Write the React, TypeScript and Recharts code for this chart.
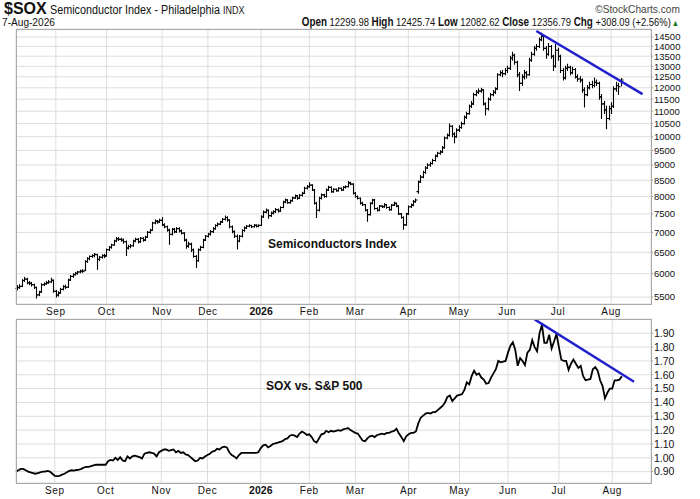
import React from 'react'
import { ComposedChart, Bar, Line, XAxis, YAxis, CartesianGrid } from 'recharts'

// trading-day index of the first session of each month
const monthTicks = [16, 37, 60, 79, 101, 121, 140, 162, 183, 203, 224, 246]
const monthLabels = ['Sep', 'Oct', 'Nov', 'Dec', '2026', 'Feb', 'Mar', 'Apr', 'May', 'Jun', 'Jul', 'Aug']

const soxTicks = [5500, 6000, 6500, 7000, 7500, 8000, 8500, 9000, 9500, 10000, 10500, 11000, 11500, 12000, 12500, 13000, 13500, 14000, 14500]
const ratioTicks = [0.9, 1.0, 1.1, 1.2, 1.3, 1.4, 1.5, 1.6, 1.7, 1.8, 1.9]

// $SOX daily bars, 8-Aug-2025 .. 7-Aug-2026
const soxOpen = [
  5680, 5700, 5730, 5850, 5880, 5800, 5790, 5760, 5700, 5550, 5610, 5760, 5780, 5800, 5820, 5850,
  5620, 5540, 5590, 5660, 5720, 5710, 5860, 5940, 5980, 6010, 6040, 6060, 6080, 6280, 6350, 6400, 6420, 6440, 6330, 6380, 6420,
  6420, 6560, 6620, 6680, 6780, 6840, 6820, 6800, 6760, 6600, 6640, 6660, 6780, 6820, 6760, 6850, 6800, 6880, 7000, 7060, 7250, 7300, 7280,
  7320, 7200, 7150, 7060, 6950, 7080, 7020, 7100, 7040, 6980, 6800, 6650, 6700, 6560, 6400, 6300, 6560, 6620, 6800,
  6900, 6950, 7020, 7100, 7180, 7220, 7280, 7350, 7400, 7330, 7150, 7020, 6900, 6780, 6900, 7050, 7120, 7160, 7180, 7150, 7190, 7160,
  7190, 7420, 7550, 7600, 7450, 7520, 7560, 7620, 7580, 7680, 7840, 7900, 7820, 7880, 7960, 8020, 7950, 8040, 8100, 8250,
  8300, 8350, 8200, 7800, 7600, 7950, 8050, 8000, 8200, 8280, 8150, 8220, 8180, 8250, 8200, 8280, 8300, 8420, 8380,
  8100, 8000, 7950, 7800, 7760, 7600, 7480, 7800, 7900, 7650, 7600, 7720, 7700, 7760, 7680, 7620, 7750, 7800, 7720, 7500, 7400, 7200,
  7500, 7700, 7750, 7850, 8150, 8450, 8600, 8750, 8900, 9000, 9050, 9150, 9300, 9400, 9450, 9600, 9950, 10050, 10400, 10100, 10000,
  10250, 10350, 10500, 10750, 10900, 11200, 11300, 11700, 11800, 11850, 11900, 11300, 11100, 11500, 11700, 11800, 11950, 12600, 12700, 12650,
  12800, 12900, 13400, 13550, 13200, 12600, 12200, 12500, 12700, 12600, 13300, 13600, 13900, 14000, 14350, 14550, 13900, 13600, 14000, 13500, 13000,
  13800, 13500, 12800, 12450, 12900, 12950, 12700, 12850, 12500, 12400, 12350, 11900, 11700, 12000, 12150, 12100, 12250, 12200, 11600, 11300, 11050, 10700,
  11100, 11200, 11950, 12100, 12299.98,
]
const soxHigh = [
  5740, 5760, 5870, 5920, 5900, 5830, 5810, 5770, 5710, 5620, 5780, 5800, 5830, 5850, 5900, 5860,
  5640, 5610, 5680, 5740, 5750, 5880, 5960, 6000, 6030, 6050, 6080, 6090, 6300, 6370, 6410, 6440, 6470, 6450, 6400, 6440, 6450,
  6580, 6640, 6700, 6800, 6870, 6860, 6850, 6830, 6780, 6670, 6690, 6800, 6850, 6840, 6870, 6860, 6900, 7020, 7080, 7270, 7330, 7320, 7350,
  7400, 7230, 7170, 7080, 7100, 7100, 7130, 7120, 7060, 6990, 6820, 6750, 6720, 6580, 6420, 6580, 6650, 6820, 6920,
  6980, 7050, 7130, 7200, 7250, 7300, 7370, 7440, 7420, 7340, 7170, 7040, 6930, 6920, 7070, 7140, 7180, 7200, 7190, 7210, 7200, 7200,
  7450, 7580, 7640, 7610, 7550, 7590, 7650, 7640, 7700, 7860, 7930, 7910, 7900, 7980, 8050, 8030, 8060, 8130, 8280, 8340,
  8420, 8360, 8210, 7830, 7980, 8080, 8070, 8230, 8310, 8290, 8240, 8230, 8270, 8260, 8300, 8330, 8460, 8440, 8390,
  8120, 8020, 7960, 7830, 7770, 7620, 7820, 7920, 7910, 7670, 7740, 7730, 7790, 7770, 7700, 7770, 7830, 7810, 7730, 7510, 7420, 7520,
  7720, 7780, 7880, 7930, 8480, 8650, 8790, 8940, 9040, 9090, 9190, 9340, 9440, 9490, 9640, 9990, 10100, 10480, 10420, 10150, 10300,
  10420, 10550, 10800, 10950, 11250, 11400, 11760, 11880, 11950, 11980, 11920, 11350, 11550, 11750, 11880, 12000, 12650, 12780, 12800, 12900,
  13000, 13500, 13700, 13600, 13250, 12700, 12600, 12800, 12750, 13400, 13700, 14000, 14100, 14450, 14700, 14600, 14000, 14150, 14050, 13550, 14100,
  13900, 13550, 12900, 13000, 13100, 13000, 12950, 12900, 12600, 12500, 12400, 12000, 12100, 12250, 12300, 12450, 12350, 12250, 11700, 11400, 11200, 11200,
  11350, 12050, 12250, 12200, 12425.74,
]
const soxLow = [
  5650, 5680, 5720, 5830, 5780, 5760, 5730, 5680, 5480, 5530, 5600, 5740, 5770, 5790, 5810, 5600,
  5500, 5520, 5580, 5650, 5680, 5700, 5850, 5920, 5970, 5990, 6020, 6030, 6070, 6260, 6320, 6380, 6390, 6100, 6300, 6360, 6370,
  6410, 6540, 6600, 6670, 6760, 6790, 6770, 6720, 6420, 6580, 6610, 6650, 6760, 6730, 6740, 6770, 6790, 6870, 6980, 7050, 7230, 7240, 7260,
  7180, 7120, 7030, 6700, 6930, 6990, 7000, 7010, 6960, 6780, 6600, 6620, 6520, 6380, 6140, 6290, 6540, 6610, 6790,
  6880, 6930, 7000, 7080, 7160, 7200, 7260, 7330, 7300, 7120, 6990, 6870, 6580, 6760, 6880, 7030, 7100, 7150, 7130, 7140, 7140, 7150,
  7180, 7400, 7530, 7380, 7430, 7500, 7540, 7550, 7570, 7670, 7820, 7800, 7800, 7860, 7940, 7920, 7940, 8020, 8090, 8230,
  8280, 8180, 7780, 7400, 7580, 7930, 7980, 7990, 8180, 8130, 8130, 8160, 8170, 8180, 8190, 8260, 8290, 8360, 8080,
  7980, 7930, 7780, 7740, 7580, 7300, 7470, 7780, 7630, 7580, 7590, 7680, 7690, 7660, 7600, 7610, 7740, 7700, 7480, 7380, 7080, 7190,
  7480, 7680, 7730, 7830, 8100, 8430, 8580, 8730, 8880, 8960, 9030, 9130, 9280, 9370, 9430, 9580, 9920, 10030, 10000, 9780, 9980,
  10200, 10320, 10480, 10700, 10880, 11150, 11280, 11650, 11750, 11800, 11250, 10840, 11050, 11450, 11650, 11750, 11930, 12550, 12500, 12600,
  12700, 12850, 13300, 13100, 12500, 11880, 12100, 12400, 12450, 12580, 13250, 13550, 13800, 13950, 14300, 13800, 13400, 13550, 13400, 12800, 12950,
  13300, 12700, 12350, 12400, 12800, 12600, 12650, 12450, 12300, 12250, 11800, 11170, 11650, 11950, 12000, 12050, 12100, 11500, 10700, 10900, 10300, 10650,
  10900, 11150, 11850, 11700, 12082.62,
]
const soxClose = [
  5700, 5720, 5850, 5880, 5800, 5790, 5760, 5700, 5540, 5600, 5760, 5780, 5800, 5820, 5860, 5620,
  5540, 5580, 5660, 5720, 5700, 5860, 5940, 5980, 6010, 6040, 6060, 6050, 6280, 6350, 6400, 6420, 6450, 6330, 6380, 6420, 6400,
  6560, 6620, 6680, 6780, 6840, 6820, 6800, 6760, 6600, 6640, 6660, 6780, 6820, 6760, 6850, 6800, 6880, 7000, 7050, 7250, 7300, 7280, 7320,
  7200, 7150, 7060, 6950, 7080, 7020, 7100, 7040, 6980, 6800, 6650, 6700, 6560, 6400, 6300, 6560, 6620, 6800, 6900,
  6950, 7020, 7100, 7180, 7220, 7280, 7350, 7400, 7330, 7150, 7020, 6900, 6780, 6900, 7050, 7120, 7160, 7180, 7150, 7190, 7160, 7180,
  7420, 7550, 7600, 7450, 7520, 7560, 7620, 7580, 7680, 7840, 7900, 7820, 7880, 7960, 8020, 7950, 8040, 8100, 8250, 8300,
  8350, 8200, 7800, 7600, 7950, 8050, 8000, 8200, 8280, 8150, 8220, 8180, 8250, 8200, 8280, 8300, 8420, 8380, 8100,
  8000, 7950, 7800, 7760, 7600, 7480, 7800, 7900, 7650, 7600, 7720, 7700, 7760, 7680, 7620, 7750, 7800, 7720, 7500, 7400, 7200, 7500,
  7700, 7750, 7850, 7900, 8450, 8600, 8750, 8900, 9000, 9050, 9150, 9300, 9400, 9450, 9600, 9950, 10050, 10400, 10100, 10000, 10250,
  10350, 10500, 10750, 10900, 11200, 11300, 11700, 11800, 11850, 11900, 11300, 11100, 11500, 11700, 11800, 11950, 12600, 12700, 12650, 12800,
  12900, 13400, 13550, 13200, 12600, 12200, 12500, 12700, 12600, 13300, 13600, 13900, 14000, 14350, 14550, 13900, 13600, 14000, 13500, 13000, 13800,
  13500, 12800, 12450, 12900, 12950, 12700, 12850, 12500, 12400, 12350, 11900, 11700, 12000, 12150, 12100, 12250, 12200, 11600, 11300, 11050, 10700, 11100,
  11200, 11950, 12100, 12048.7, 12356.79,
]

// SOX : S&P 500 ratio, daily close
const ratio = [
  0.9, 0.91, 0.92, 0.92, 0.91, 0.9, 0.895, 0.89, 0.885, 0.89, 0.895, 0.9, 0.9, 0.905, 0.9, 0.885,
  0.87, 0.868, 0.87, 0.878, 0.885, 0.895, 0.905, 0.91, 0.908, 0.912, 0.915, 0.92, 0.93, 0.935, 0.935, 0.94, 0.945, 0.95, 0.95, 0.95, 0.95,
  0.95, 0.975, 0.985, 0.98, 1.0, 0.985, 1.005, 0.98, 0.975, 1.01, 0.995, 1.01, 1.015, 1.01, 1.005, 0.995, 1.03, 1.035, 1.04, 1.035, 1.03, 1.01, 1.04,
  1.05, 1.06, 1.06, 1.05, 1.055, 1.06, 1.04, 1.05, 1.035, 1.04, 1.025, 1.02, 1.005, 0.99, 0.975, 0.98, 1.0, 0.995, 1.01,
  1.02, 1.03, 1.045, 1.05, 1.065, 1.06, 1.075, 1.08, 1.075, 1.04, 1.02, 1.01, 0.995, 1.02, 1.035, 1.035, 1.035, 1.035, 1.035, 1.035, 1.035, 1.04,
  1.07, 1.09, 1.095, 1.075, 1.085, 1.1, 1.105, 1.11, 1.115, 1.12, 1.135, 1.14, 1.16, 1.165, 1.16, 1.15, 1.175, 1.19, 1.18, 1.165,
  1.17, 1.15, 1.12, 1.11, 1.14, 1.17, 1.175, 1.195, 1.185, 1.195, 1.19, 1.195, 1.2, 1.195, 1.205, 1.21, 1.215, 1.2, 1.19,
  1.18, 1.175, 1.15, 1.125, 1.12, 1.14, 1.155, 1.16, 1.15, 1.165, 1.17, 1.175, 1.17, 1.18, 1.18, 1.19, 1.195, 1.21, 1.175, 1.15, 1.12, 1.155,
  1.17, 1.18, 1.18, 1.19, 1.25, 1.29, 1.305, 1.32, 1.325, 1.32, 1.33, 1.33, 1.345, 1.36, 1.375, 1.4, 1.44, 1.45, 1.41, 1.43, 1.45,
  1.455, 1.46, 1.49, 1.545, 1.53, 1.59, 1.63, 1.6, 1.61, 1.58, 1.565, 1.535, 1.54, 1.58, 1.61, 1.64, 1.7, 1.69, 1.695, 1.7,
  1.76, 1.81, 1.835, 1.78, 1.665, 1.72, 1.7, 1.67, 1.76, 1.78, 1.85, 1.8, 1.77, 1.9, 1.96, 1.83, 1.83, 1.89, 1.79, 1.84, 1.895,
  1.8, 1.71, 1.7, 1.7, 1.635, 1.68, 1.71, 1.68, 1.65, 1.665, 1.59, 1.56, 1.565, 1.57, 1.64, 1.655, 1.63, 1.56, 1.52, 1.43, 1.47, 1.5,
  1.5, 1.56, 1.56, 1.565, 1.59,
]

// hand-drawn trendlines: [start, end] slot and value
const soxTrendIdx = [215, 259]
const soxTrendVal = [14830, 11720]
const ratioTrendIdx = [214, 255]
const ratioTrendVal = [2.0, 1.55]

const SLOTS = 263

const rows = Array.from({ length: SLOTS }, (_, i) => {
  const has = i < soxClose.length
  return {
    i,
    range: has ? [soxLow[i], soxHigh[i]] : undefined,
    open: has ? soxOpen[i] : undefined,
    high: has ? soxHigh[i] : undefined,
    low: has ? soxLow[i] : undefined,
    close: has ? soxClose[i] : undefined,
    ratio: has ? ratio[i] : undefined,
    soxTrend: soxTrendIdx.includes(i) ? soxTrendVal[soxTrendIdx.indexOf(i)] : undefined,
    ratioTrend: ratioTrendIdx.includes(i) ? ratioTrendVal[ratioTrendIdx.indexOf(i)] : undefined,
  }
})

const FONT = '"Liberation Sans", Arial, Helvetica, sans-serif'

// OHLC bar: vertical high-low stroke, open tick left, close tick right
const OhlcBar = (props: any) => {
  const { x, y, width, height, payload } = props
  if (!payload || payload.high == null) return null
  const cx = Math.round(x + width / 2) + 0.5
  const top = Math.min(y, y + height)
  const bot = Math.max(y, y + height)
  const lh = Math.log(payload.high)
  const ll = Math.log(payload.low)
  const at = (v: number) => top + ((bot - top) * (lh - Math.log(v))) / (lh - ll || 1)
  const yo = at(payload.open)
  const yc = at(payload.close)
  return (
    <g stroke="#000" strokeWidth={1.1}>
      <line x1={cx} x2={cx} y1={top - 0.5} y2={bot + 0.5} />
      <line x1={cx - 2} x2={cx} y1={yo} y2={yo} />
      <line x1={cx} x2={cx + 2} y1={yc} y2={yc} />
    </g>
  )
}

const MonthTick = (props: any) => {
  const { x, y, payload } = props
  const k = monthTicks.indexOf(payload.value)
  const label = k >= 0 ? monthLabels[k] : ''
  const bold = label === '2026'
  return (
    <text
      x={x}
      y={y}
      dy="0.71em"
      textAnchor="middle"
      fontFamily={FONT}
      fontSize={bold ? 10.5 : 10}
      fontWeight={bold ? 'bold' : 'normal'}
      letterSpacing={bold ? 0 : 0.6}
      fill="#111"
    >
      {label}
    </text>
  )
}

const xAxisProps = {
  dataKey: 'i',
  type: 'category' as const,
  ticks: monthTicks,
  interval: 0 as const,
  tick: <MonthTick />,
  tickLine: false,
  axisLine: false,
  tickSize: 0,
  tickMargin: 4,
  height: 16,
}

const yTick = { fontSize: 9.5, fill: '#111', fontFamily: FONT }

const panelBorder = (top: number, height: number) => (
  <div
    style={{
      position: 'absolute',
      left: 16,
      top,
      width: 636,
      height: height + 1,
      border: '1px solid #aaaaaa',
      boxSizing: 'border-box',
      pointerEvents: 'none',
    }}
  />
)

export default function App() {
  return (
    <div
      style={{
        position: 'absolute',
        left: 0,
        top: 0,
        width: 700,
        height: 499,
        background: '#fff',
        overflow: 'hidden',
        fontFamily: FONT,
        color: '#111',
      }}
    >
      {/* header */}
      <div style={{ position: 'absolute', left: 4, top: 0, whiteSpace: 'nowrap', lineHeight: '17px' }}>
        <span style={{ fontSize: 16, fontWeight: 'bold' }}>$SOX</span>
        <span style={{ fontSize: 12, marginLeft: 3, display: 'inline-block', transform: 'scaleX(0.9)', transformOrigin: 'left' }}>
          Semiconductor Index - Philadelphia <span style={{ fontSize: 10 }}>INDX</span>
        </span>
      </div>
      <div style={{ position: 'absolute', right: 20, top: 3, whiteSpace: 'nowrap', fontSize: 11, color: '#444', lineHeight: '13px', transform: 'scaleX(0.92)', transformOrigin: 'right' }}>
        ©StockCharts.com
      </div>
      <div style={{ position: 'absolute', left: 2, top: 16, whiteSpace: 'nowrap', fontSize: 11, lineHeight: '12px', transform: 'scaleX(0.92)', transformOrigin: 'left' }}>
        7-Aug-2026
      </div>
      <div
        style={{
          position: 'absolute',
          right: 21,
          top: 16,
          whiteSpace: 'nowrap',
          fontSize: 11.5,
          lineHeight: '12px',
          transform: 'scaleX(0.82)',
          transformOrigin: 'right',
        }}
      >
        <b style={{ fontSize: 12 }}>Open</b> 12299.98 <b style={{ fontSize: 12 }}>High</b> 12425.74{' '}
        <b style={{ fontSize: 12 }}>Low</b> 12082.62 <b style={{ fontSize: 12 }}>Close</b> 12356.79{' '}
        <b style={{ fontSize: 12 }}>Chg</b> +308.09 (+2.56%)<span style={{ color: '#1f7a1f', fontSize: 9, marginLeft: 1 }}>▲</span>
      </div>

      {/* price panel */}
      <div style={{ position: 'absolute', left: 0, top: 0 }}>
        <ComposedChart width={700} height={320} data={rows} margin={{ top: 29, right: 0, bottom: 0, left: 16 }}>
          <CartesianGrid stroke="#dddddd" strokeWidth={1} />
          <XAxis {...xAxisProps} />
          <YAxis
            orientation="right"
            type="number"
            scale="log"
            domain={[5360, 14940]}
            allowDataOverflow
            ticks={soxTicks}
            interval={0}
            width={49}
            axisLine={false}
            tickLine={{ stroke: '#999' }}
            tickSize={2}
            tickMargin={1}
            tick={yTick}
          />
          <Bar dataKey="range" barSize={2} shape={<OhlcBar />} isAnimationActive={false} />
          <Line
            dataKey="soxTrend"
            stroke="#2020cc"
            strokeWidth={2.5}
            dot={false}
            connectNulls
            isAnimationActive={false}
          />
        </ComposedChart>
      </div>

      {/* relative strength panel */}
      <div style={{ position: 'absolute', left: 0, top: 304 }}>
        <ComposedChart width={700} height={195} data={rows} margin={{ top: 15, right: 0, bottom: 0, left: 16 }}>
          <CartesianGrid stroke="#dddddd" strokeWidth={1} />
          <XAxis {...xAxisProps} />
          <YAxis
            orientation="right"
            type="number"
            domain={[0.818, 2.003]}
            allowDataOverflow
            ticks={ratioTicks}
            interval={0}
            width={49}
            axisLine={false}
            tickLine={{ stroke: '#999' }}
            tickSize={2}
            tickMargin={1}
            tickFormatter={(v: number) => v.toFixed(2)}
            tick={{ ...yTick, fontSize: 10.5 }}
          />
          <Line
            dataKey="ratio"
            stroke="#000"
            strokeWidth={1.8}
            dot={false}
            isAnimationActive={false}
          />
          <Line
            dataKey="ratioTrend"
            stroke="#2020cc"
            strokeWidth={2.5}
            dot={false}
            connectNulls
            isAnimationActive={false}
          />
        </ComposedChart>
      </div>

      {panelBorder(29, 275)}
      {panelBorder(319, 164)}

      <div style={{ position: 'absolute', left: 268, top: 237, fontSize: 12, fontWeight: 'bold', lineHeight: '14px', whiteSpace: 'nowrap' }}>
        Semiconductors Index
      </div>
      <div style={{ position: 'absolute', left: 266, top: 379, fontSize: 12, fontWeight: 'bold', lineHeight: '14px', whiteSpace: 'nowrap' }}>
        SOX vs. S&amp;P 500
      </div>
    </div>
  )
}
